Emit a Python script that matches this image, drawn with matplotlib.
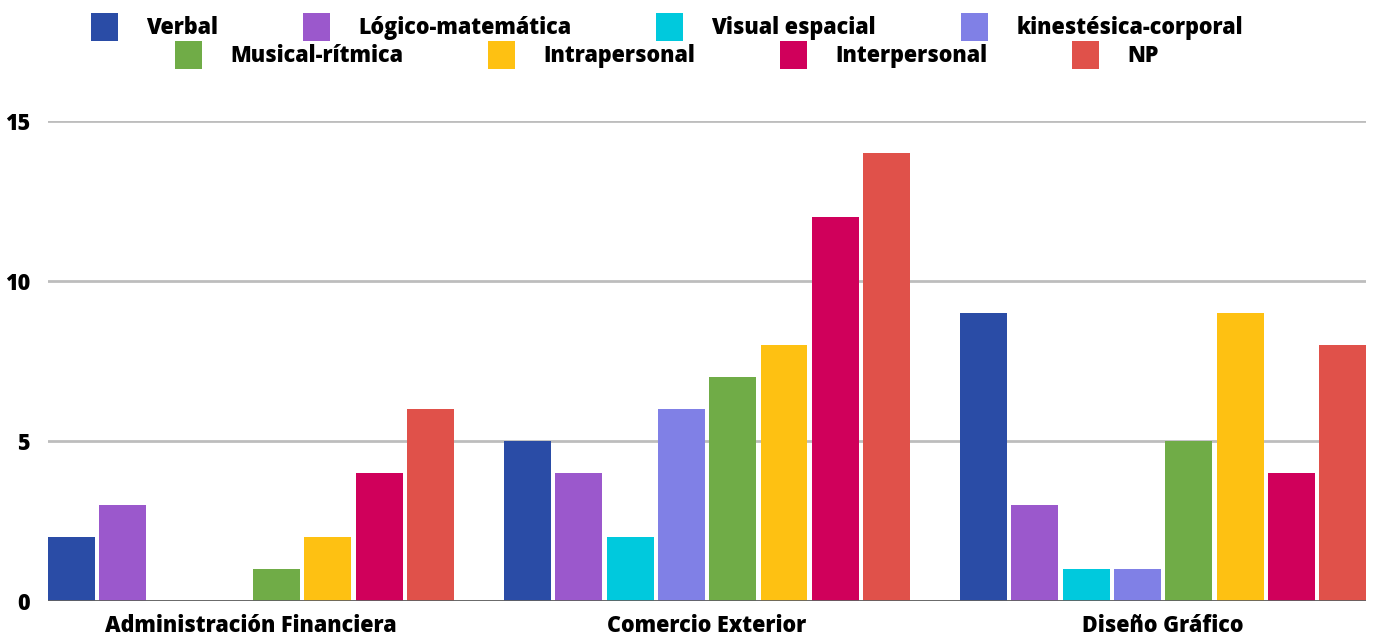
import numpy as np
import matplotlib.pyplot as plt
from matplotlib.patches import Patch

plt.rcParams['font.family'] = ['Open Sans', 'DejaVu Sans']
plt.rcParams['font.weight'] = 'heavy'

# datos
carreras = ['Administración Financiera', 'Comercio Exterior', 'Diseño Gráfico']
series = ['Verbal', 'Lógico-matemática', 'Visual espacial', 'kinestésica-corporal',
          'Musical-rítmica', 'Intrapersonal', 'Interpersonal', 'NP']
colores = ['#2A4CA6', '#9B58CC', '#00C9DD', '#8080E6',
           '#70AC47', '#FEC112', '#D0005B', '#E0514A']
verbal = [2, 5, 9]
logico = [3, 4, 3]
visual = [0, 2, 1]
kinestesica = [0, 6, 1]
musical = [1, 7, 5]
intrapersonal = [2, 8, 9]
interpersonal = [4, 12, 4]
np_vals = [6, 14, 8]
valores = [verbal, logico, visual, kinestesica, musical, intrapersonal, interpersonal, np_vals]

fig = plt.figure(figsize=(13.75, 6.36), dpi=100)
ax = fig.add_axes([0.0349, 0.055, 0.9586, 0.7547])

x = np.arange(len(carreras))
paso = 0.1125
ancho = 0.103
for i, (serie, vals) in enumerate(zip(series, valores)):
    ax.bar(x + (i - 3.5) * paso, vals, width=ancho, color=colores[i], label=serie, zorder=3)

ax.set_xlim(-0.445, 2.445)
ax.set_ylim(0, 15)
ax.set_yticks([0, 5, 10, 15])
ax.set_xticks(x)
ax.set_xticklabels(carreras)
ax.tick_params(axis='both', length=0, labelsize=15.5)
ax.tick_params(axis='y', pad=13)
ax.tick_params(axis='x', pad=9.5)
ax.grid(axis='y', color='#BDBDBD', linewidth=2.0, zorder=0)
ax.axhline(0, color='#616161', linewidth=2.0, zorder=4)
for s in ax.spines.values():
    s.set_visible(False)

# leyenda en dos filas
handles = [Patch(facecolor=c, edgecolor='none') for c in colores]
kw = dict(frameon=False, ncol=4, fontsize=15.5, handlelength=1.26, handleheight=1.63,
          handletextpad=1.3, columnspacing=3.95, loc='center', borderpad=0, borderaxespad=0)
leg1 = fig.legend(handles[:4], series[:4], bbox_to_anchor=(0.485, 0.9575), **kw)
leg2 = fig.legend(handles[4:], series[4:], bbox_to_anchor=(0.485, 0.9135), **kw)

plt.savefig('out.png', dpi=100)
